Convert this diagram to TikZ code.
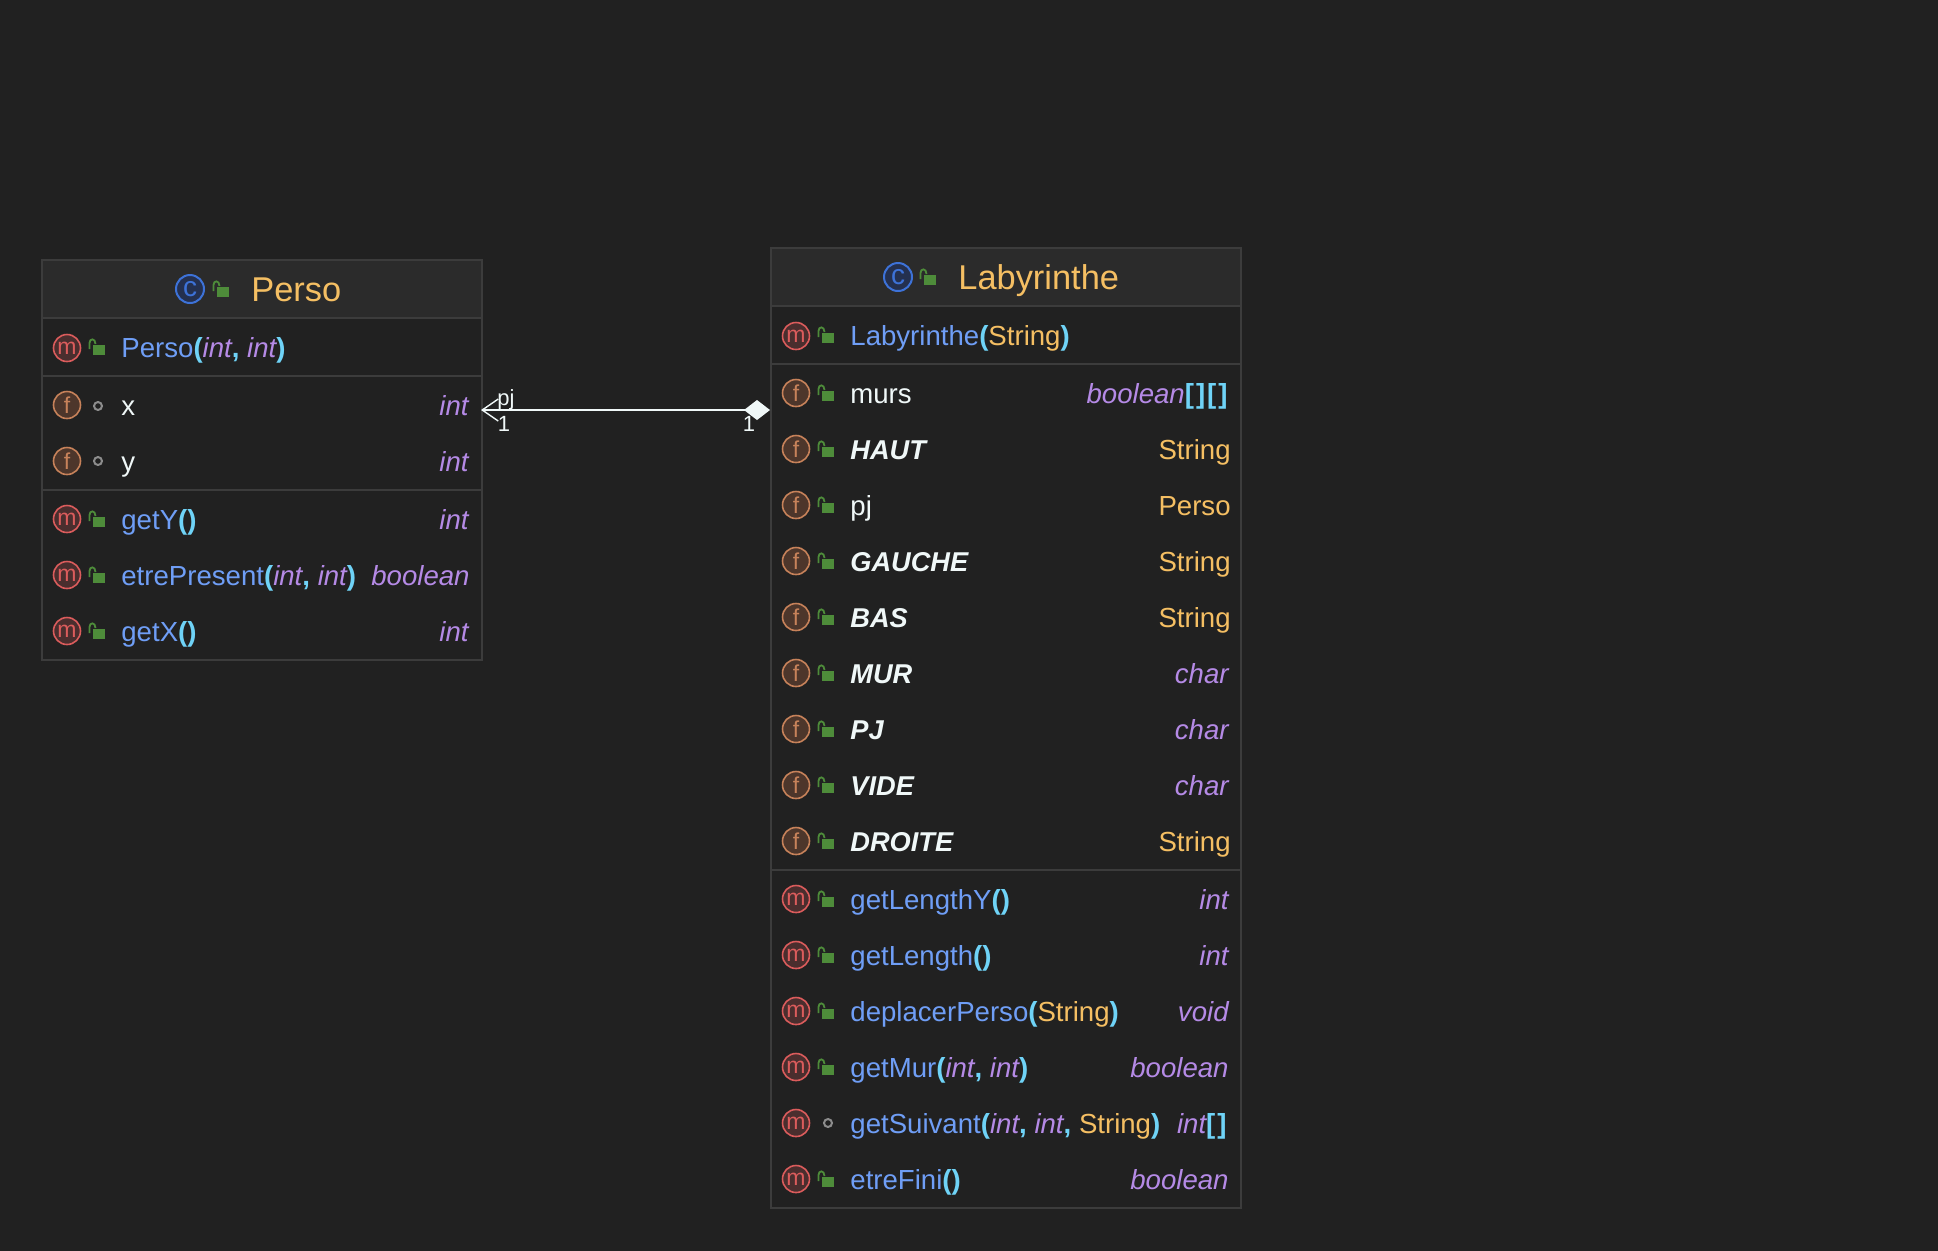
\documentclass[tikz,border=0pt]{standalone}
\usepackage{fontspec}
\setmainfont{Liberation Sans}
\usetikzlibrary{arrows.meta}
\definecolor{bgdark}{HTML}{212121}
\definecolor{headfill}{HTML}{2B2B2B}
\definecolor{boxline}{HTML}{3C3C3C}
\definecolor{namewhite}{HTML}{F0F8F8}
\definecolor{methblue}{HTML}{6F9EF6}
\definecolor{typepurple}{HTML}{B58AE6}
\definecolor{typeyellow}{HTML}{F5BF63}
\definecolor{bracecyan}{HTML}{6FD3F7}
\definecolor{lockgreen}{HTML}{4E8C3A}
\definecolor{mline}{HTML}{DB5C5C}
\definecolor{mfill}{HTML}{4A2E2E}
\definecolor{fline}{HTML}{C7825A}
\definecolor{ffill}{HTML}{4D362B}
\definecolor{cline}{HTML}{3D72D8}
\definecolor{cfill}{HTML}{24304F}
\newcommand{\kw}[1]{\textcolor{typepurple}{\itshape #1}}
\newcommand{\st}[1]{\textcolor{typeyellow}{#1}}
\newcommand{\br}[1]{\textcolor{bracecyan}{\bfseries #1}}
\tikzset{
  classbox/.style={draw=boxline,line width=1pt,inner sep=0pt,minimum width=#1},
  iconm/.style={circle,draw=mline,line width=0.8pt,fill=mfill,text=mline,minimum size=13.5pt,inner sep=0pt,font=\fontsize{11.5}{12}\selectfont},
  iconf/.style={circle,draw=fline,line width=0.8pt,fill=ffill,text=fline,minimum size=13.5pt,inner sep=0pt,font=\fontsize{11.5}{12}\selectfont},
  iconc/.style={circle,draw=cline,line width=1pt,fill=cfill,text=cline,minimum size=14pt,inner sep=0pt,font=\fontsize{14}{14}\selectfont},
  dotmark/.style={circle,draw=gray!90,line width=1pt,minimum size=4pt,inner sep=0pt},
  rowname/.style={anchor=base west,inner sep=0pt,text=namewhite,font=\fontsize{13.8}{14}\selectfont},
  methname/.style={rowname,text=methblue},
  statname/.style={rowname,font=\fontsize{13.6}{14}\selectfont\bfseries\itshape},
  rowtype/.style={anchor=base east,inner sep=0pt,font=\fontsize{13.8}{14}\selectfont},
  classtitle/.style={anchor=base west,inner sep=0pt,text=typeyellow,font=\fontsize{17.2}{18}\selectfont},
  endlabel/.style={inner sep=0pt,text=namewhite,font=\fontsize{11}{11}\selectfont},
  sepline/.style={draw=boxline,line width=1pt},
  assoc/.style={draw=namewhite,line width=0.9pt,shorten <=-1pt,{Straight Barb[length=8pt,width=11pt,line width=0.7pt]}-{Diamond[length=13pt,width=10pt]}},
  lockopen/.pic={
    \fill[lockgreen] (-6,-3) rectangle (6,7);
    \draw[lockgreen,line width=0.9pt] (-9.5,1) -- (-9.5,-5) .. controls (-9.5,-10) and (-3.5,-10) .. (-3.5,-4);
  }
}
\begin{document}
\begin{tikzpicture}[x=0.5pt,y=-0.5pt]
  \useasboundingbox (0,0) rectangle (1938,1250);
  \fill[bgdark] (-6,-6) rectangle (1944,1256);

  \node[classbox=220pt,minimum height=200pt] (perso) at (262,460) {};
  \node[classbox=220pt,minimum height=29pt,fill=headfill] (persohead) at (262,289) {};
  \draw[sepline] (perso.west |- 0,376) -- (perso.east |- 0,376);
  \draw[sepline] (perso.west |- 0,490) -- (perso.east |- 0,490);
  \node[iconc] (persoc) at (190,289) {c};
  \pic at (223,290) {lockopen};
  \node[classtitle] (persot) at (251,301) {Perso};

  \node[iconm] (pm1) at (67,348) {m};
  \pic at (99,348) {lockopen};
  \node[methname] (pn1) at (121,357) {Perso\br{(}\kw{int}\br{,} \kw{int}\br{)}};

  \node[iconf] (pf1) at (67,405) {f};
  \node[dotmark] (pd1) at (98,406) {};
  \node[rowname] (pn2) at (121,415) {x};
  \node[rowtype] (pt2) at (469,415) {\kw{int}};
  \node[iconf] (pf2) at (67,461) {f};
  \node[dotmark] (pd2) at (98,461) {};
  \node[rowname] (pn3) at (121,471) {y};
  \node[rowtype] (pt3) at (469,471) {\kw{int}};

  \node[iconm] (pm2) at (67,519) {m};
  \pic at (99,520) {lockopen};
  \node[methname] (pn4) at (121,529) {getY\br{()}};
  \node[rowtype] (pt4) at (469,529) {\kw{int}};
  \node[iconm] (pm3) at (67,575) {m};
  \pic at (99,576) {lockopen};
  \node[methname] (pn5) at (121,585) {etrePresent\br{(}\kw{int}\br{,} \kw{int}\br{)}};
  \node[rowtype] (pt5) at (470,585) {\kw{boolean}};
  \node[iconm] (pm4) at (67,631) {m};
  \pic at (99,632) {lockopen};
  \node[methname] (pn6) at (121,641) {getX\br{()}};
  \node[rowtype] (pt6) at (469,641) {\kw{int}};

  \node[classbox=235pt,minimum height=480pt] (laby) at (1006,728) {};
  \node[classbox=235pt,minimum height=29pt,fill=headfill] (labyhead) at (1006,277) {};
  \draw[sepline] (laby.west |- 0,364) -- (laby.east |- 0,364);
  \draw[sepline] (laby.west |- 0,870) -- (laby.east |- 0,870);
  \node[iconc] (labyc) at (898,277) {c};
  \pic at (930,278) {lockopen};
  \node[classtitle] (labyt) at (958,289) {Labyrinthe};

  \node[iconm] (lm1) at (796,336) {m};
  \pic at (828,336) {lockopen};
  \node[methname] (ln1) at (850,345) {Labyrinthe\br{(}\st{String}\br{)}};

  \node[iconf] (lf1) at (796,393) {f};
  \pic at (828,394) {lockopen};
  \node[rowname] (ln2) at (850,403) {murs};
  \node[rowtype] (lt2) at (1228,403) {\kw{boolean}\br{[\kern1pt]}\kern1pt\br{[\kern1pt]}};
  \node[iconf] (lf2) at (796,449) {f};
  \pic at (828,450) {lockopen};
  \node[statname] (ln3) at (850,459) {HAUT};
  \node[rowtype] (lt3) at (1231,459) {\st{String}};
  \node[iconf] (lf3) at (796,505) {f};
  \pic at (828,506) {lockopen};
  \node[rowname] (ln4) at (850,515) {pj};
  \node[rowtype] (lt4) at (1231,515) {\st{Perso}};
  \node[iconf] (lf4) at (796,561) {f};
  \pic at (828,562) {lockopen};
  \node[statname] (ln5) at (850,571) {GAUCHE};
  \node[rowtype] (lt5) at (1231,571) {\st{String}};
  \node[iconf] (lf5) at (796,617) {f};
  \pic at (828,618) {lockopen};
  \node[statname] (ln6) at (850,627) {BAS};
  \node[rowtype] (lt6) at (1231,627) {\st{String}};
  \node[iconf] (lf6) at (796,673) {f};
  \pic at (828,674) {lockopen};
  \node[statname] (ln7) at (850,683) {MUR};
  \node[rowtype] (lt7) at (1229,683) {\kw{char}};
  \node[iconf] (lf7) at (796,729) {f};
  \pic at (828,730) {lockopen};
  \node[statname] (ln8) at (850,739) {PJ};
  \node[rowtype] (lt8) at (1229,739) {\kw{char}};
  \node[iconf] (lf8) at (796,785) {f};
  \pic at (828,786) {lockopen};
  \node[statname] (ln9) at (850,795) {VIDE};
  \node[rowtype] (lt9) at (1229,795) {\kw{char}};
  \node[iconf] (lf9) at (796,841) {f};
  \pic at (828,842) {lockopen};
  \node[statname] (ln10) at (850,851) {DROITE};
  \node[rowtype] (lt10) at (1231,851) {\st{String}};

  \node[iconm] (lm2) at (796,899) {m};
  \pic at (828,900) {lockopen};
  \node[methname] (ln11) at (850,909) {getLengthY\br{()}};
  \node[rowtype] (lt11) at (1229,909) {\kw{int}};
  \node[iconm] (lm3) at (796,955) {m};
  \pic at (828,956) {lockopen};
  \node[methname] (ln12) at (850,965) {getLength\br{()}};
  \node[rowtype] (lt12) at (1229,965) {\kw{int}};
  \node[iconm] (lm4) at (796,1011) {m};
  \pic at (828,1012) {lockopen};
  \node[methname] (ln13) at (850,1021) {deplacerPerso\br{(}\st{String}\br{)}};
  \node[rowtype] (lt13) at (1229,1021) {\kw{void}};
  \node[iconm] (lm5) at (796,1067) {m};
  \pic at (828,1068) {lockopen};
  \node[methname] (ln14) at (850,1077) {getMur\br{(}\kw{int}\br{,} \kw{int}\br{)}};
  \node[rowtype] (lt14) at (1229,1077) {\kw{boolean}};
  \node[iconm] (lm6) at (796,1123) {m};
  \node[dotmark] (ld1) at (828,1123) {};
  \node[methname] (ln15) at (850,1133) {getSuivant\br{(}\kw{int}\br{,} \kw{int}\br{,} \st{String}\br{)}};
  \node[rowtype] (lt15) at (1227,1133) {\kw{int}\br{[\kern1pt]}};
  \node[iconm] (lm7) at (796,1179) {m};
  \pic at (828,1180) {lockopen};
  \node[methname] (ln16) at (850,1189) {etreFini\br{()}};
  \node[rowtype] (lt16) at (1229,1189) {\kw{boolean}};

  \coordinate (pjlink) at (600,410);
  \draw[assoc] (perso.east |- pjlink) -- (laby.west |- pjlink);
  \node[endlabel] (pjlabel) at (506,400) {pj};
  \node[endlabel] (oneleft) at (504,424) {1};
  \node[endlabel] (oneright) at (749,424) {1};
\end{tikzpicture}
\end{document}
